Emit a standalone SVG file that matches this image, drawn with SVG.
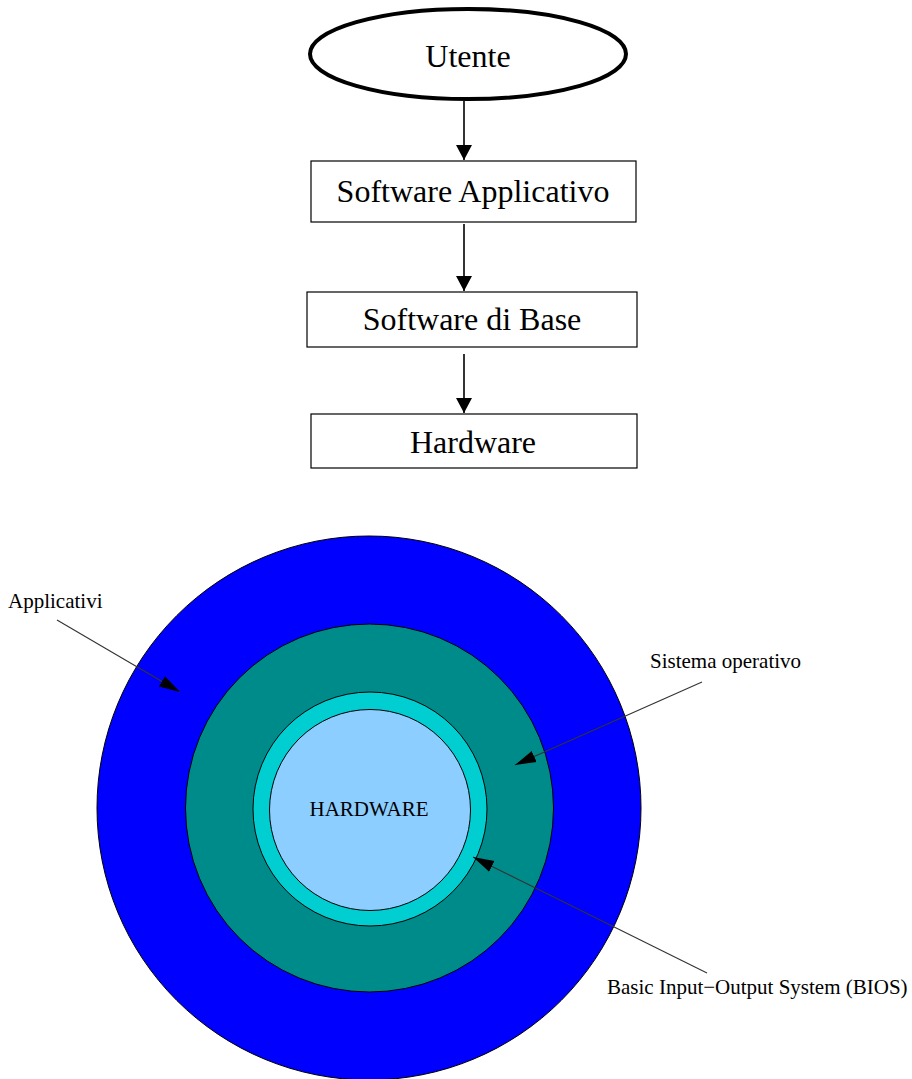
<svg xmlns="http://www.w3.org/2000/svg" width="912" height="1079" viewBox="0 0 912 1079">
<style>
.box{fill:#fff;stroke:#000;stroke-width:1.2}
.t{font-family:"Liberation Serif","Times New Roman",serif;fill:#000}
.big{font-size:32px}
.small{font-size:21px}
.conn{stroke:#000;stroke-width:1.6;fill:none}
.lead{stroke:#333;stroke-width:1.1;fill:none}
.ring{stroke:#000;stroke-width:1}
</style>
<defs>
<marker id="ah" markerWidth="16" markerHeight="16" refX="15" refY="8" orient="auto" markerUnits="userSpaceOnUse">
<path d="M0,0 L15,8 L0,16 Z" fill="#000"/>
</marker>
<marker id="ah2" markerWidth="22" markerHeight="14" refX="21" refY="7" orient="auto" markerUnits="userSpaceOnUse">
<path d="M0,1 L21,7 L0,13 Z" fill="#000"/>
</marker>
</defs>
<rect width="912" height="1079" fill="#fff"/>
<g id="utente">
<ellipse cx="468" cy="54" rx="158" ry="45" fill="#fff" stroke="#000" stroke-width="4"/>
<text class="t big" x="468" y="67" text-anchor="middle">Utente</text>
</g>
<g id="sw-applicativo">
<rect class="box" x="311" y="161" width="325" height="61"/>
<text class="t big" x="473" y="202" text-anchor="middle">Software Applicativo</text>
</g>
<g id="sw-base">
<rect class="box" x="307" y="292" width="330" height="55"/>
<text class="t big" x="472" y="330" text-anchor="middle">Software di Base</text>
</g>
<g id="hardware-box">
<rect class="box" x="311" y="414" width="326" height="54"/>
<text class="t big" x="473" y="453" text-anchor="middle">Hardware</text>
</g>
<g id="layers">
<circle id="applicativi-ring" class="ring" cx="369" cy="808" r="272" fill="#0000FF"/>
<circle id="so-ring" class="ring" cx="369.5" cy="808" r="184" fill="#008B8B"/>
<circle id="bios-ring" class="ring" cx="370" cy="809" r="117" fill="#00CED1"/>
<circle id="hw-core" class="ring" cx="370" cy="810" r="100.5" fill="#8CCEFF"/>
<text class="t small" x="369" y="816" text-anchor="middle">HARDWARE</text>
</g>
<g id="labels">
<text class="t small" x="8" y="608">Applicativi</text>
<text class="t small" x="650" y="668">Sistema operativo</text>
<text class="t small" x="607" y="994">Basic Input−Output System (BIOS)</text>
</g>
<g id="connectors">
<line class="conn" x1="464" y1="101" x2="464" y2="160" marker-end="url(#ah)"/>
<line class="conn" x1="464" y1="224" x2="464" y2="291" marker-end="url(#ah)"/>
<line class="conn" x1="464" y1="354" x2="464" y2="413" marker-end="url(#ah)"/>
<line class="lead" x1="57" y1="620" x2="180" y2="692" marker-end="url(#ah2)"/>
<line class="lead" x1="702" y1="682" x2="515" y2="765" marker-end="url(#ah2)"/>
<line class="lead" x1="707" y1="973" x2="473" y2="857" marker-end="url(#ah2)"/>
</g>
</svg>
